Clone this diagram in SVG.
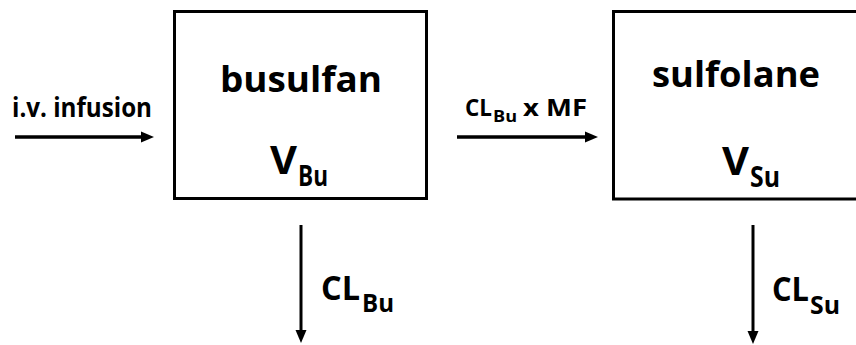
<svg xmlns="http://www.w3.org/2000/svg" width="856" height="345" viewBox="0 0 856 345">
<defs>
<style>
text{font-family:"Open Sans","Liberation Sans",sans-serif;font-weight:bold;fill:#000}
.box{fill:#fff;stroke:#000;stroke-width:3}
.conn{stroke:#000;fill:none}
.h{stroke-width:3.5}
.v{stroke-width:3}
</style>
<marker id="ah" markerUnits="userSpaceOnUse" markerWidth="14" markerHeight="12" viewBox="0 0 14 12" refX="2" refY="6" orient="auto">
<path d="M0,0.5 L13,6 L0,11.5 z" fill="#000"/>
</marker>
</defs>
<rect width="856" height="345" fill="#fff"/>
<g id="busulfan">
<rect class="box" x="174.5" y="11.5" width="252" height="187"/>
<text x="220" y="92" font-size="35" textLength="162" lengthAdjust="spacingAndGlyphs">busulfan</text>
<text y="174"><tspan x="270" font-size="40" textLength="27" lengthAdjust="spacingAndGlyphs">V</tspan><tspan x="298" y="185.5" font-size="28" textLength="30" lengthAdjust="spacingAndGlyphs">Bu</tspan></text>
</g>
<g id="sulfolane">
<rect class="box" x="613.5" y="11.5" width="260" height="187.5"/>
<text x="652" y="87" font-size="35" textLength="168" lengthAdjust="spacingAndGlyphs">sulfolane</text>
<text y="175"><tspan x="722" font-size="40" textLength="27" lengthAdjust="spacingAndGlyphs">V</tspan><tspan x="750" y="187" font-size="28" textLength="30" lengthAdjust="spacingAndGlyphs">Su</tspan></text>
</g>
<g id="connectors">
<line class="conn h" x1="15" y1="137" x2="143" y2="137" marker-end="url(#ah)"/>
<line class="conn h" x1="457" y1="137" x2="587" y2="137" marker-end="url(#ah)"/>
<line class="conn v" x1="301" y1="225" x2="301" y2="332" marker-end="url(#ah)"/>
<line class="conn v" x1="753" y1="225" x2="753" y2="333" marker-end="url(#ah)"/>
<text x="12" y="117" font-size="26" textLength="140" lengthAdjust="spacingAndGlyphs">i.v. infusion</text>
<text y="116"><tspan x="465" font-size="23" textLength="27" lengthAdjust="spacingAndGlyphs">CL</tspan><tspan x="493" y="122" font-size="16" textLength="24" lengthAdjust="spacingAndGlyphs">Bu</tspan><tspan x="523" y="116" font-size="23" textLength="64" lengthAdjust="spacingAndGlyphs">x MF</tspan></text>
<text y="300"><tspan x="321" font-size="34" textLength="39" lengthAdjust="spacingAndGlyphs">CL</tspan><tspan x="362" y="312" font-size="25" textLength="32" lengthAdjust="spacingAndGlyphs">Bu</tspan></text>
<text y="301"><tspan x="772" font-size="34" textLength="37" lengthAdjust="spacingAndGlyphs">CL</tspan><tspan x="810" y="314" font-size="25" textLength="30" lengthAdjust="spacingAndGlyphs">Su</tspan></text>
</g>
</svg>
